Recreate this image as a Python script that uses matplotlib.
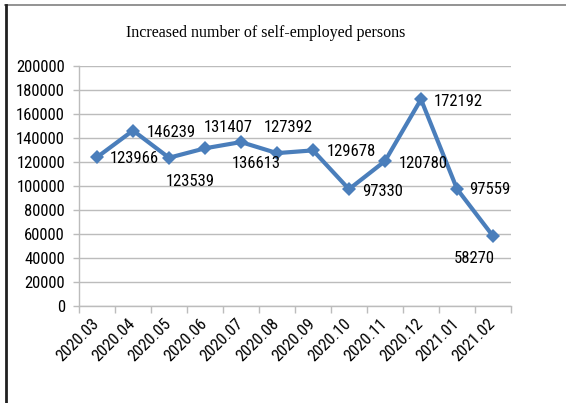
import matplotlib
matplotlib.use('Agg')
import matplotlib.pyplot as plt
from matplotlib import font_manager
from matplotlib.lines import Line2D

months = ['2020.03', '2020.04', '2020.05', '2020.06', '2020.07', '2020.08',
          '2020.09', '2020.10', '2020.11', '2020.12', '2021.01', '2021.02']
persons = [123966, 146239, 123539, 131407, 136613, 127392,
           129678, 97330, 120780, 172192, 97559, 58270]
yticks = list(range(0, 200001, 20000))
# label offsets in pixels (dx, dy) so the numbers don't sit on the line
offsets = [(13, -1), (14, -2), (-3, -24), (-1, 21), (-9, -21), (-13, 26),
           (14, -1), (13, -2), (14, -2), (13, -2), (12, -1), (-39, -22)]

# prefer a narrow sans for the numbers if one is around
installed = {f.name for f in font_manager.fontManager.ttflist}
narrow = [n for n in ['Liberation Sans Narrow', 'Roboto Condensed',
                      'Open Sans Condensed'] if n in installed]
if narrow:
    font_num, num_size = [narrow[0], 'DejaVu Sans'], 12
else:
    font_num, num_size = ['Liberation Sans', 'DejaVu Sans'], 10
font_title = ['Liberation Serif', 'DejaVu Serif']

grid_col = '#bcbcbc'

fig = plt.figure(figsize=(5.66, 4.03), dpi=100)
ax = fig.add_axes([79 / 566, 1 - 306 / 403, 432 / 566, 240 / 403])

x = list(range(len(months)))
ax.plot(x, persons, color='#4a7ebb', lw=3, marker='D', ms=7.5,
        markeredgewidth=0, zorder=3)

for xi, v, (dx, dy) in zip(x, persons, offsets):
    ax.annotate(str(v), (xi, v), xytext=(dx, dy), textcoords='offset pixels',
                ha='left', va='center', fontsize=num_size, family=font_num,
                color='black')

ax.set_xlim(-0.5, len(months) - 0.5)
ax.set_ylim(0, 200000)
ax.set_yticks(yticks)
ax.set_yticklabels([str(v) for v in yticks], family=font_num,
                   fontsize=num_size)
ax.yaxis.grid(True, color=grid_col, lw=1)
ax.set_axisbelow(True)

ax.set_xticks(x)
ax.set_xticklabels(months, rotation=45, ha='right', va='center',
                   rotation_mode='anchor', family=font_num, fontsize=num_size)
ax.set_xticks([i - 0.5 for i in range(len(months) + 1)], minor=True)
ax.tick_params(axis='x', which='major', length=0, pad=11)
ax.tick_params(axis='x', which='minor', length=5, color=grid_col, width=1)
ax.tick_params(axis='y', length=4, color=grid_col, width=1, pad=6)

for side in ['top', 'right']:
    ax.spines[side].set_visible(False)
for side in ['left', 'bottom']:
    ax.spines[side].set_color(grid_col)
    ax.spines[side].set_linewidth(1)

fig.text(266 / 566, 1 - 33 / 403, 'Increased number of self-employed persons',
         ha='center', va='center', fontsize=11.5, family=font_title)

# chart frame edges
fig.add_artist(Line2D([5 / 566, 1], [1 - 5 / 403, 1 - 5 / 403],
                      transform=fig.transFigure, color='#808080', lw=1.2))
fig.add_artist(Line2D([6 / 566, 6 / 566], [0, 1 - 5 / 403],
                      transform=fig.transFigure, color='#202020', lw=2))

fig.savefig('out.png', dpi=100)
